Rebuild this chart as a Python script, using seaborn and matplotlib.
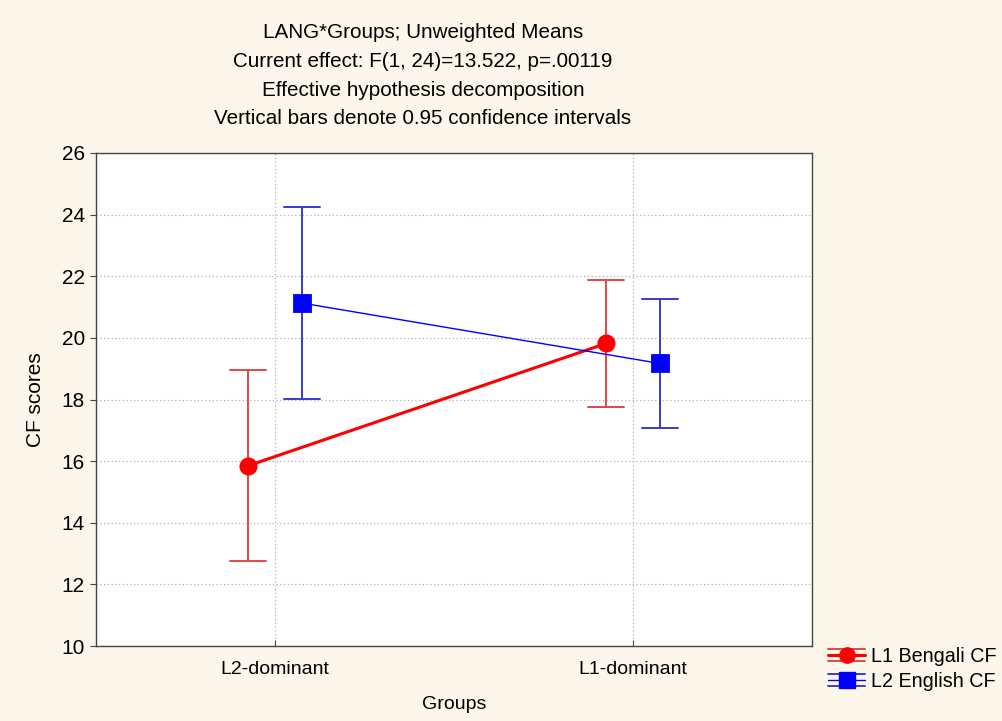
import numpy as np
import pandas as pd
import matplotlib
matplotlib.use("Agg")
import matplotlib.pyplot as plt
import seaborn as sns
from matplotlib.lines import Line2D
from matplotlib.legend_handler import HandlerBase

groups = ["L2-dominant", "L1-dominant"]
series = ["L1 Bengali CF", "L2 English CF"]
bengali_mean = [15.85, 19.82]
bengali_ci = [3.10, 2.06]
english_mean = [21.13, 19.17]
english_ci = [3.12, 2.10]
yticks = [10, 12, 14, 16, 18, 20, 22, 24, 26]
title_lines = ["LANG*Groups; Unweighted Means",
               "Current effect: F(1, 24)=13.522, p=.00119",
               "Effective hypothesis decomposition",
               "Vertical bars denote 0.95 confidence intervals"]

rows = []
for s, means, cis in [(series[0], bengali_mean, bengali_ci), (series[1], english_mean, english_ci)]:
    for g, m, c in zip(groups, means, cis):
        for v in (m - c, m, m + c):
            rows.append({"Groups": g, "LANG": s, "CF": v})
df = pd.DataFrame(rows)

sns.set_theme(style="white")
plt.rcParams["font.family"] = ["Liberation Sans", "DejaVu Sans"]

bg = "#FCF7EA"
fig = plt.figure(figsize=(10.03, 7.21), dpi=100, facecolor=bg)
ax = fig.add_axes([96/1003, 1-646/721, (812-96)/1003, (646-153)/721])
ax.set_facecolor("white")

sns.pointplot(data=df, x="Groups", y="CF", hue="LANG", order=groups, hue_order=series,
              palette=["#FF0000", "#0000FF"], markers=["o", "s"], linestyles=["-", "-"],
              estimator="mean", errorbar=lambda v: (v.min(), v.max()),
              capsize=0.1, dodge=0.15, markersize=11, ax=ax)

main_lw = {"#ff0000": 2.2, "#0000ff": 1.0}
err_col = {"#ff0000": "#E04848", "#0000ff": "#3A3AC8"}
for ln in ax.lines:
    col = matplotlib.colors.to_hex(ln.get_color())
    if ln.get_marker() not in ("", "None", None):
        ln.set_linewidth(main_lw.get(col, 1.5))
        ln.set_zorder(5)
    else:
        ln.set_color(err_col.get(col, col))
        ln.set_linewidth(1.4)
        ln.set_zorder(4)

if ax.get_legend() is not None:
    ax.get_legend().remove()

ax.set_xlim(-0.5, 1.5)
ax.set_ylim(10, 26)
ax.set_yticks(yticks)
ax.set_xticks([0, 1])
ax.set_xticklabels(groups)
ax.grid(True, ls=(0, (1, 2)), color="#B0B0B0", lw=0.9)
ax.set_axisbelow(True)
for sp in ax.spines.values():
    sp.set_color("#444444")
    sp.set_linewidth(1.0)
ax.tick_params(axis="y", left=True, direction="out", length=4, width=0.8, color="#444444",
               labelsize=15, labelcolor="black", pad=4)
ax.tick_params(axis="x", bottom=True, direction="in", length=4, width=0.8, color="#444444",
               labelsize=14, labelcolor="black", pad=11)
ax.set_xlabel("Groups", fontsize=14, color="black", labelpad=13)
ax.set_ylabel("CF scores", fontsize=15, color="black", labelpad=12)

for i, t in enumerate(title_lines):
    fig.text(423/1003, 1 - (33 + 28.5*i)/721, t, ha="center", va="center", fontsize=14.9, color="black")


class ErrHandler(HandlerBase):
    def create_artists(self, legend, orig_handle, xdescent, ydescent, width, height, fontsize, trans):
        col = orig_handle.get_color()
        ecol = err_col.get(matplotlib.colors.to_hex(col), col)
        cy = height / 2 - ydescent
        d = height * 0.45
        x0, x1 = -xdescent, width - xdescent
        xm = (x0 + x1) / 2
        arts = []
        for yy in (cy + d, cy - d):
            arts.append(Line2D([x0, x1], [yy, yy], color=ecol, lw=1.4))
        arts.append(Line2D([xm, xm], [cy - d, cy + d], color=ecol, lw=1.4))
        arts.append(Line2D([x0, x1], [cy, cy], color=col, lw=orig_handle.get_linewidth()))
        arts.append(Line2D([xm], [cy], color=col, marker=orig_handle.get_marker(),
                           markersize=orig_handle.get_markersize(), lw=0))
        for a in arts:
            a.set_transform(trans)
        return arts


handles = [
    Line2D([], [], color="#FF0000", marker="o", markersize=11, lw=2.2),
    Line2D([], [], color="#0000FF", marker="s", markersize=11, lw=1.0),
]
fig.legend(handles, series, loc="upper left", bbox_to_anchor=(828/1003, 1-647/721),
           frameon=False, fontsize=14.2, handlelength=1.9, handletextpad=0.3, labelspacing=0.3,
           borderaxespad=0, borderpad=0, labelcolor="black",
           handler_map={Line2D: ErrHandler()})

fig.savefig("out.png", dpi=100, facecolor=bg)
